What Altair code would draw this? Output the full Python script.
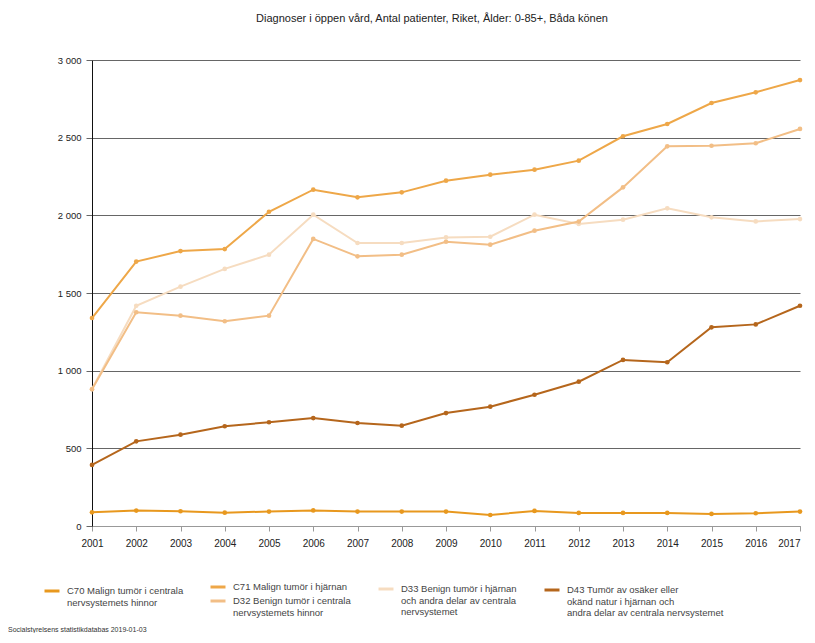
import json
import altair as alt
import pandas as pd

years = list(range(2001, 2018))

series_names = [
    "C70 Malign tumör i centrala nervsystemets hinnor",
    "C71 Malign tumör i hjärnan",
    "D32 Benign tumör i centrala nervsystemets hinnor",
    "D33 Benign tumör i hjärnan och andra delar av centrala nervsystemet",
    "D43 Tumör av osäker eller okänd natur i hjärnan och andra delar av centrala nervsystemet",
]
legend_lines = [
    ["C70 Malign tumör i centrala", "nervsystemets hinnor"],
    ["C71 Malign tumör i hjärnan"],
    ["D32 Benign tumör i centrala", "nervsystemets hinnor"],
    ["D33 Benign tumör i hjärnan", "och andra delar av centrala", "nervsystemet"],
    ["D43 Tumör av osäker eller", "okänd natur i hjärnan och", "andra delar av centrala nervsystemet"],
]

c70 = [88, 99, 95, 86, 93, 100, 93, 93, 93, 71, 97, 84, 84, 84, 78, 82, 93]
c71 = [1339, 1702, 1770, 1783, 2023, 2165, 2116, 2148, 2223, 2262, 2294, 2352, 2509, 2588, 2723, 2792, 2871]
d32 = [880, 1376, 1354, 1318, 1354, 1848, 1736, 1747, 1830, 1811, 1901, 1960, 2180, 2444, 2448, 2464, 2556]
d33 = [882, 1418, 1541, 1655, 1747, 2004, 1822, 1822, 1858, 1862, 2004, 1945, 1972, 2045, 1987, 1961, 1976]
d43 = [393, 545, 588, 642, 668, 695, 663, 646, 727, 768, 845, 929, 1069, 1054, 1279, 1298, 1418]

colors = ["#e8981e", "#eea748", "#f2be86", "#f6dcc0", "#b5661c"]
y_ticks = [0, 500, 1000, 1500, 2000, 2500, 3000]

title_text = "Diagnoser i öppen vård, Antal patienter, Riket, Ålder: 0-85+, Båda könen"
footer_text = "Socialstyrelsens statistikdatabas 2019-01-03"

rows = []
for name, vals in zip(series_names, [c70, c71, d32, d33, d43]):
    for y, v in zip(years, vals):
        rows.append({"År": y, "Antal": v, "Diagnos": name})
df = pd.DataFrame(rows)

W, H = 708, 466

# legend placement (relative to the plot area), one legend per series
legend_pos = [(-49, 522), (117, 518), (117, 532), (285, 520), (451, 521)]
draw_order = [3, 2, 1, 4, 0]

x_enc = alt.X("År:Q",
              scale=alt.Scale(domain=[2001, 2017], nice=False, zero=False),
              axis=alt.Axis(title=None, values=years, format="d", grid=False,
                            domainColor="#999", tickColor="#999", tickSize=5,
                            labelColor="#222", labelFontSize=10, labelPadding=7,
                            labelFont="Liberation Sans", labelOverlap=False,
                            labelAlign=alt.ExprRef(expr="datum.value == 2017 ? 'right' : 'center'")))
y_enc = alt.Y("Antal:Q",
              scale=alt.Scale(domain=[0, 3000], nice=False),
              axis=alt.Axis(title=None, values=y_ticks,
                            labelExpr="replace(format(datum.value, ','), ',', ' ')",
                            gridColor="#666", gridWidth=1, domainColor="#111",
                            tickColor="#666", tickSize=6, labelColor="#222",
                            labelFontSize=9.5, labelFont="Liberation Sans", labelPadding=5))

layers = []
for i in draw_order:
    name = series_names[i]
    lx, ly = legend_pos[i]
    layers.append(
        alt.Chart(df).transform_filter(alt.datum["Diagnos"] == name).mark_line(
            strokeWidth=2,
            point=alt.OverlayMarkDef(filled=True, size=22),
        ).encode(
            x=x_enc,
            y=y_enc,
            color=alt.Color("Diagnos:N",
                            scale=alt.Scale(domain=[name], range=[colors[i]]),
                            legend=alt.Legend(
                                title=None, orient="none", legendX=lx, legendY=ly,
                                padding=0,
                                labelExpr=json.dumps(legend_lines[i], ensure_ascii=False),
                                labelFont="Liberation Sans", labelFontSize=9.5,
                                labelColor="#444", labelLimit=300,
                                labelBaseline="middle",
                                symbolType="stroke", symbolStrokeWidth=3, symbolSize=225,
                                labelOffset=6,
                            )),
        )
    )

footer = alt.Chart(pd.DataFrame({"t": [footer_text]})).mark_text(
    align="left", baseline="middle", font="Liberation Sans", fontSize=7, color="#333"
).encode(text="t:N", x=alt.value(-84), y=alt.value(H + 104))

chart = alt.layer(*layers, footer).resolve_scale(color="independent").properties(
    width=W, height=H,
    title=alt.Title(title_text, font="Liberation Sans", fontSize=11, fontWeight="normal",
                    color="#222", offset=31, dx=-14),
    padding={"left": 0, "top": 5, "right": 0, "bottom": 0},
).configure_view(stroke=None)

chart.save("out.html", embed_options={"renderer": "svg", "actions": False})
